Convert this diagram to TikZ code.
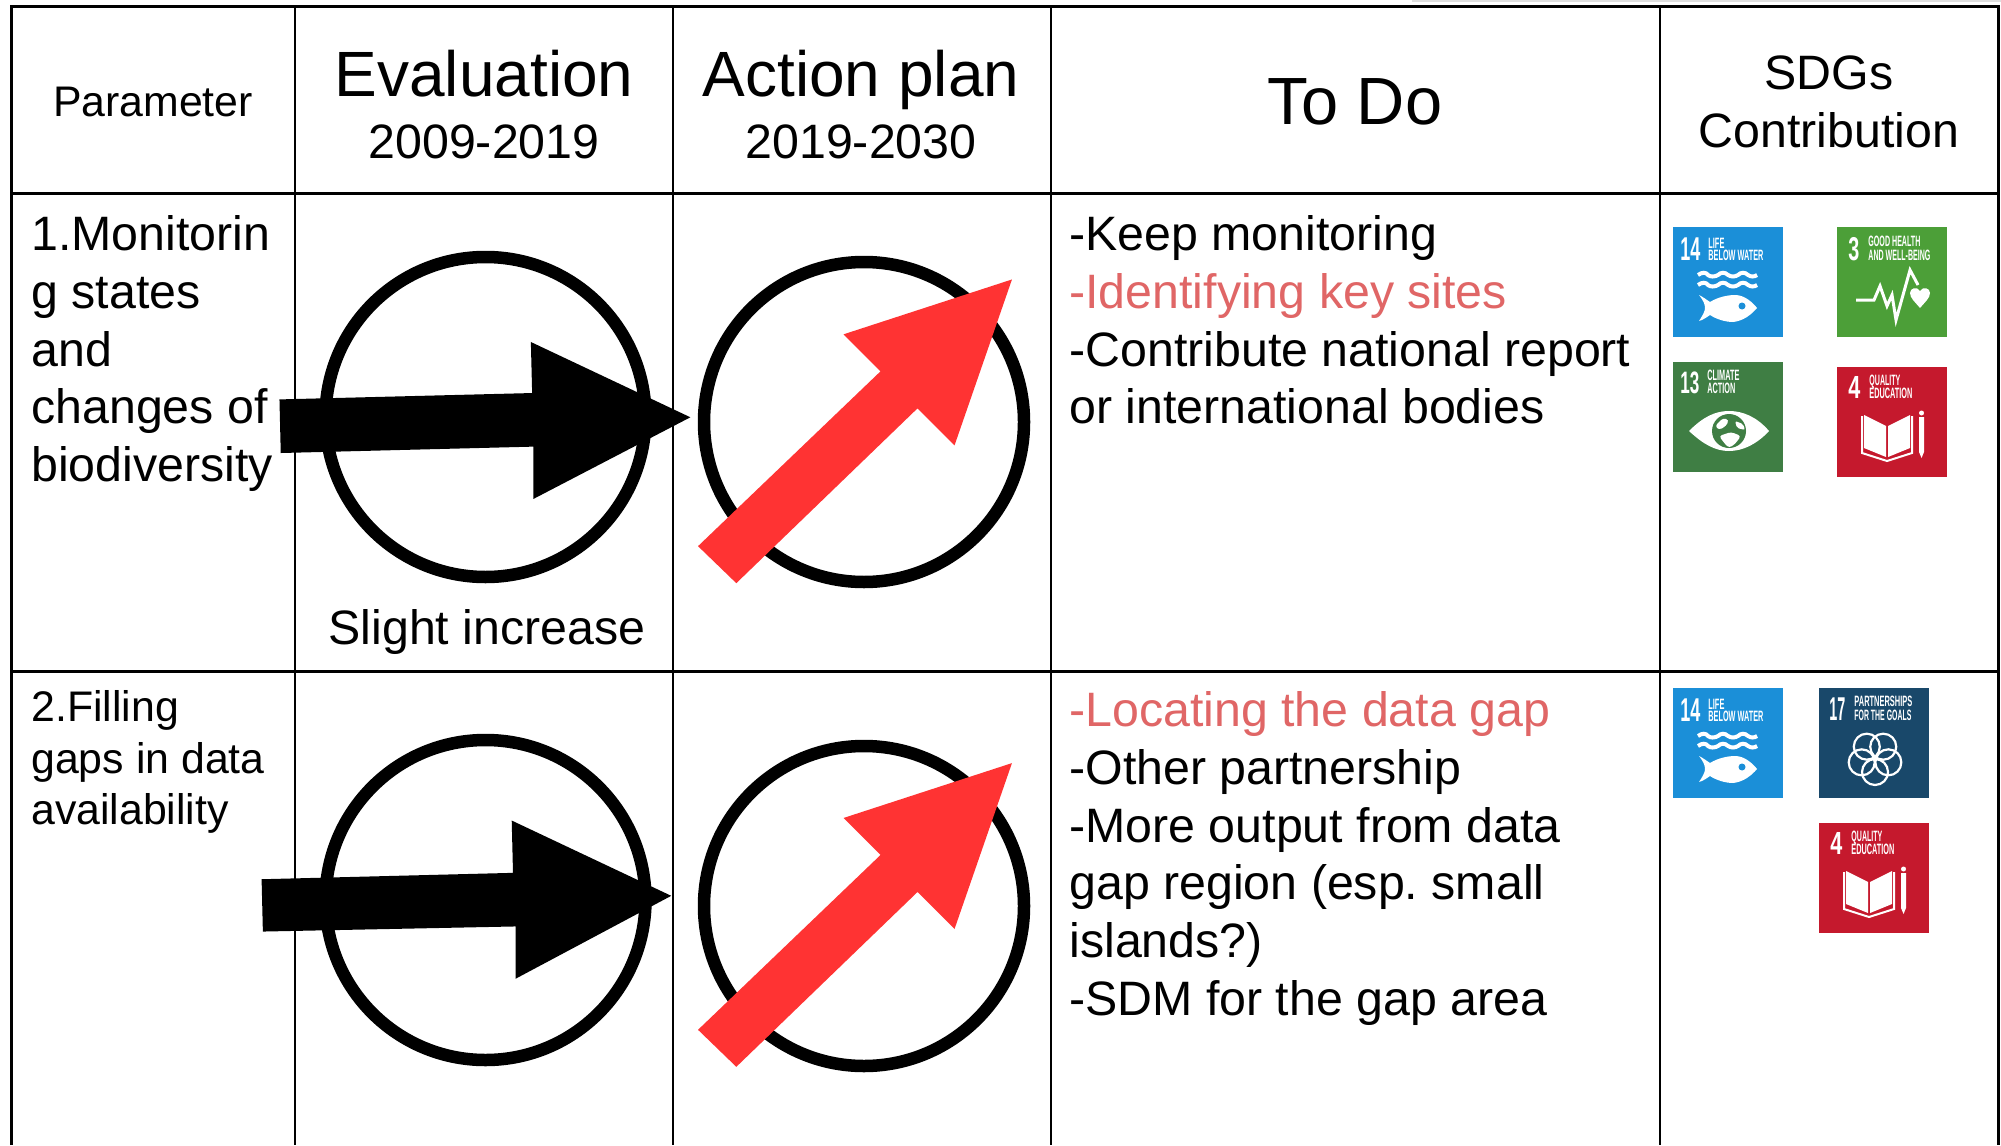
\documentclass[tikz,border=0pt]{standalone}
\usepackage{fontspec}
\setmainfont{Liberation Sans}
\frenchspacing
\definecolor{todored}{HTML}{E06666}
\definecolor{arrowred}{HTML}{FF3333}
\definecolor{sdgblue}{HTML}{1B8FD8}
\definecolor{sdghealth}{HTML}{4C9F38}
\definecolor{sdgclimate}{HTML}{3F7E44}
\definecolor{sdgedu}{HTML}{C5192D}
\definecolor{sdgnavy}{HTML}{19486A}
\newcommand{\sdglabel}[6]{\node[sdgtxt,font=\bfseries\fontsize{#5}{#5}\selectfont] (#1) at (#2,#3) {\resizebox{#6}{\height}{#4}};}
\newcommand{\sdgwave}[1]{\draw[white,line width=2pt] (25,#1) .. controls (29,#1-3) and (33,#1-3) .. (35,#1) .. controls (37,#1+2) and (42,#1+2) .. (45,#1) .. controls (48,#1-3) and (52,#1-3) .. (55,#1) .. controls (58,#1+2) and (62,#1+2) .. (65,#1) .. controls (68,#1-3) and (72,#1-3) .. (75,#1) .. controls (78,#1+2) and (81,#1+2) .. (84,#1);}
\tikzset{
  rule/.style={line width=1.5pt,black},
  colrule/.style={line width=1.3pt,black},
  cellhead/.style={inner sep=0pt,anchor=base,black},
  big/.style={font=\fontsize{32}{36}\selectfont},
  mid/.style={font=\fontsize{24.15}{28.9}\selectfont},
  small/.style={font=\fontsize{21.4}{25.85}\selectfont},
  cellbody/.style={inner sep=0pt,anchor=north west,align=left,black},
  ring/.style={circle,draw=black,line width=6.25pt,fill=none,inner sep=0pt,minimum size=160pt},
  sdgtxt/.style={inner sep=0pt,anchor=base west,text=white},
  sdgfourteen/.pic={
    \fill[sdgblue] (0,0) rectangle (110,110);
    \sdglabel{n}{7}{33}{14}{16.5}{10pt}
    \sdglabel{a}{35}{21}{LIFE}{7.5}{8pt}
    \sdglabel{b}{35}{33}{BELOW WATER}{7.5}{27.5pt}
    \sdgwave{48}
    \sdgwave{58}
    \fill[white] (26,68) .. controls (30,70) and (34,73) .. (37,75) .. controls (45,70) and (55,68) .. (62,68) .. controls (72,68) and (80,76) .. (84,81) .. controls (78,88) and (70,94) .. (60,95) .. controls (52,95) and (43,92) .. (37,88) .. controls (34,90) and (30,93) .. (26,94) .. controls (30,88) and (32,84) .. (32,81) .. controls (32,77) and (30,73) .. (26,68) -- cycle;
    \fill[sdgblue] (69,79) circle[radius=3.5];
  },
  sdgthree/.pic={
    \fill[sdghealth] (0,0) rectangle (110,110);
    \sdglabel{n}{11}{33}{3}{16.5}{5.5pt}
    \sdglabel{a}{31}{19}{GOOD HEALTH}{7.5}{26pt}
    \sdglabel{b}{31}{33}{AND WELL-BEING}{7.5}{31pt}
    \draw[white,line width=1.5pt,line join=miter] (19,73) -- (37,73) -- (43,59) -- (50,79) -- (55,68) -- (59,93) -- (73,43) -- (81,58);
    \fill[white] (83,81) .. controls (78,75) and (73,71) .. (73,66) .. controls (73,61) and (80,59) .. (83,64) .. controls (86,59) and (93,61) .. (93,66) .. controls (93,71) and (88,75) .. (83,81) -- cycle;
  },
  sdgthirteen/.pic={
    \fill[sdgclimate] (0,0) rectangle (110,110);
    \sdglabel{n}{7}{31}{13}{15.5}{9.5pt}
    \sdglabel{a}{34}{18}{CLIMATE}{7.5}{16pt}
    \sdglabel{b}{34}{31}{ACTION}{7.5}{14pt}
    \fill[white] (16,69) .. controls (30,55) and (42,49) .. (56,49) .. controls (70,49) and (84,55) .. (96,69) .. controls (84,82) and (70,89) .. (56,89) .. controls (42,89) and (30,82) .. (16,69) -- cycle;
    \fill[sdgclimate] (56,69) circle[radius=17];
    \fill[white,rounded corners=1.5pt] (42,64) -- (50,56) -- (56,58) -- (53,64) -- (46,68) -- cycle;
    \fill[white,rounded corners=1.5pt] (46,74) -- (58,70) -- (68,74) -- (62,82) -- (56,86) -- (52,82) -- cycle;
    \fill[white,rounded corners=1pt] (62,59) -- (70,62) -- (72,68) -- (64,66) -- cycle;
  },
  sdgfour/.pic={
    \fill[sdgedu] (0,0) rectangle (110,110);
    \sdglabel{n}{11}{31}{4}{16}{6pt}
    \sdglabel{a}{32}{18}{QUALITY}{7.5}{15.5pt}
    \sdglabel{b}{32}{31}{EDUCATION}{7.5}{21.5pt}
    \fill[white] (27,48) -- (49,59) -- (49,90) -- (27,81) -- cycle;
    \fill[white] (73,48) -- (51,59) -- (51,90) -- (73,81) -- cycle;
    \draw[white,line width=1pt] (25,49) -- (25,86) -- (50,94) -- (75,86) -- (75,49);
    \fill[white] (84.5,46) circle[radius=2.5];
    \fill[white] (82,50) -- (87,50) -- (87,85) -- (84.5,91) -- (82,85) -- cycle;
  },
  sdgseventeen/.pic={
    \fill[sdgnavy] (0,0) rectangle (110,110);
    \sdglabel{n}{10}{32}{17}{16.5}{8pt}
    \sdglabel{a}{35}{18}{PARTNERSHIPS}{7.5}{29pt}
    \sdglabel{b}{35}{32}{FOR THE GOALS}{7.5}{28.5pt}
    \foreach \ang in {90,162,234,306,18}
      \draw[white,line width=1.1pt] (56,70) ++(\ang:14) circle[radius=13];
  }
}
\begin{document}
\begin{tikzpicture}[x=.5pt,y=-.5pt]
\useasboundingbox (0,0) rectangle (2001,1145);
\fill[white] (0,0) rectangle (2001,1145);
% faint edge and table rules
\draw[line width=1pt,black!13] (1412,0.8) -- (2001,0.8);
\draw[rule] (11,1145) -- (11,7) -- (1998,7) -- (1998,1145);
\draw[rule] (11,193) -- (1998,193);
\draw[rule] (11,671) -- (1998,671);
\foreach \colx in {295,673,1051,1660}
  \draw[colrule] (\colx,7) -- (\colx,1145);
% header
\node[cellhead,font=\fontsize{21.4}{25}\selectfont] (param) at (153,117) {Parameter};
\node[cellhead,big] (evalt) at (484,97) {Evaluation};
\node[cellhead,mid] (evaly) at (484,158) {2009-2019};
\node[cellhead,big] (actt) at (861,97) {Action plan};
\node[cellhead,mid] (acty) at (861,158) {2019-2030};
\node[cellhead,font=\fontsize{33.4}{36}\selectfont] (todo) at (1355,125) {To Do};
\node[cellhead,mid] (sdga) at (1829,90) {SDGs};
\node[cellhead,mid] (sdgb) at (1829,148) {Contribution};
% circles
\node[ring] (ea) at (485.5,417) {};
\node[ring] (aa) at (864,422) {};
\node[ring] (eb) at (485.5,900) {};
\node[ring] (ab) at (864,906) {};
% arrows, in the displayed scale
\begin{scope}[scale=1.2761]
\fill[black] (219,313) -- (417,308) -- (416,268) -- (541,327) -- (418,391) -- (418,350) -- (220,355) -- cycle;
\fill[black] (205,689) -- (402,684) -- (401,643) -- (526,702) -- (404,767) -- (404,726) -- (206,730) -- cycle;
\fill[arrowred] (793,219) -- (661,262) -- (690,291) -- (547,428) -- (577,457) -- (719,320) -- (748,349) -- cycle;
\fill[arrowred] (793,598) -- (661,641) -- (690,670) -- (547,807) -- (577,836) -- (719,699) -- (748,728) -- cycle;
\end{scope}
% text cells
\node[cellbody,mid] (pone) at (31,210) {\rule{0pt}{20pt}1.Monitorin\\g states\\and\\changes of\\biodiversity};
\node[cellhead,mid] (slight) at (487,644) {Slight increase};
\node[cellbody,mid] (tone) at (1069,210) {\rule{0pt}{20pt}-Keep monitoring\\\textcolor{todored}{-Identifying key sites}\\-Contribute national report\\or international bodies};
\node[cellbody,small] (ptwo) at (31,681) {\rule{0pt}{20pt}2.Filling\\gaps in data\\availability};
\node[cellbody,mid] (ttwo) at (1069,686) {\rule{0pt}{20pt}\textcolor{todored}{-Locating the data gap}\\-Other partnership\\-More output from data\\gap region (esp. small\\islands?)\\-SDM for the gap area};
% SDG icons
\pic (ia) at (1673,227) {sdgfourteen};
\pic (ib) at (1837,227) {sdgthree};
\pic (ic) at (1673,362) {sdgthirteen};
\pic (id) at (1837,367) {sdgfour};
\pic (ie) at (1673,688) {sdgfourteen};
\pic (if) at (1819,688) {sdgseventeen};
\pic (ig) at (1819,823) {sdgfour};
\end{tikzpicture}
\end{document}
